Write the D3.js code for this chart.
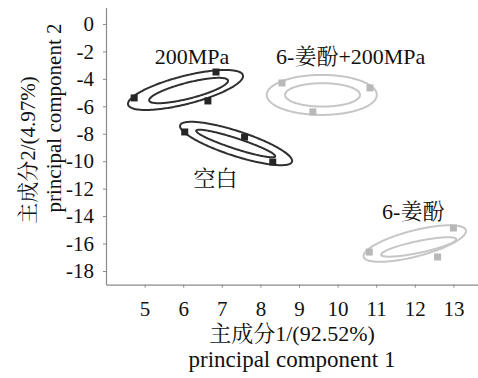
<!DOCTYPE html>
<html>
<head>
<meta charset="utf-8">
<script src="https://cdn.jsdelivr.net/npm/d3@7/dist/d3.min.js"></script>
<style>
  html, body { margin: 0; padding: 0; background: #fff; }
  svg { display: block; }
  text { font-family: "Liberation Serif", "Noto Serif CJK SC", "Noto Sans CJK SC", serif; fill: #111; }
</style>
</head>
<body>
<svg id="chart" width="478" height="378"></svg>
<script>
// ---------- data ----------
const groups = ["200MPa", "空白", "6-姜酚+200MPa", "6-姜酚"];
const groupTone = ["dark", "dark", "light", "light"];
// sample scores (3 per group)
const pointX = [[4.73, 6.85, 6.64], [6.04, 7.59, 8.32], [8.56, 10.84, 9.36], [10.82, 13.00, 12.59]];
const pointY = [[-5.39, -3.50, -5.61], [-7.87, -8.24, -10.06], [-4.30, -4.66, -6.41], [-16.62, -14.87, -16.98]];
// ellipses: [cx, cy, ux, uy, vx, vy] (centre, major and minor semi-axis vectors, data units)
const outerEllipse = [
  [6.06, -4.81, 1.487, 1.071, 0.090, -0.989],
  [7.37, -8.71, 1.448, -1.328, -0.100, -0.860],
  [9.59, -5.17, 1.425, 0, 0, -1.458],
  [12.00, -16.00, 1.324, 0.969, 0.085, -0.917]
];
const innerEllipse = [
  [6.14, -4.85, 1.021, 0.736, 0.052, -0.560],
  [7.36, -8.71, 1.022, -0.938, -0.045, -0.360],
  [9.61, -5.17, 0.971, 0, 0, -0.853],
  [12.10, -16.25, 0.971, 0.569, 0.030, -0.420]
];
// group label anchors (data units)
const labelX = [6.23, 6.84, 10.34, 11.96];
const labelY = [-2.33, -11.22, -2.33, -13.67];
const xTicks = [5, 6, 7, 8, 9, 10, 11, 12, 13];
const yTicks = [0, -2, -4, -6, -8, -10, -12, -14, -16, -18];
const xTitle = ["主成分1/(92.52%)", "principal component 1"];
const yTitle = ["主成分2/(4.97%)", "principal component 2"];

// ---------- styles ----------
const toneStroke = { dark: "#303030", light: "#c6c6c6" };
const toneFill = { dark: "#262626", light: "#b8b8b8" };
const axisColor = "#8a8a8a";

// ---------- chart ----------
const svg = d3.select("#chart");
const x = d3.scaleLinear().domain([4, 14]).range([106, 492]);
const y = d3.scaleLinear().domain([1.2, -19]).range([7.5, 284.7]);

const xAxis = svg.append("g")
  .attr("transform", `translate(0,${y(-19)})`)
  .call(d3.axisBottom(x).tickValues(xTicks).tickSize(3).tickSizeOuter(0).tickPadding(13).tickFormat(d3.format("d")));
const yAxis = svg.append("g")
  .attr("transform", `translate(${x(4)},0)`)
  .call(d3.axisLeft(y).tickValues(yTicks).tickSize(3).tickSizeOuter(0).tickPadding(9).tickFormat(d => d === 0 ? "0" : "-" + Math.abs(d)));
[xAxis, yAxis].forEach(g => {
  g.select(".domain").attr("stroke", axisColor).attr("stroke-width", 1.2);
  g.selectAll(".tick line").attr("stroke", axisColor);
  g.selectAll(".tick text").attr("font-size", 21).attr("fill", "#111")
    .attr("font-family", "Liberation Serif, serif");
});

// ellipses
const ellipsePath = e => {
  const pts = d3.range(0, 360, 3).map(deg => {
    const t = deg * Math.PI / 180;
    return [x(e[0] + Math.cos(t) * e[2] + Math.sin(t) * e[4]),
            y(e[1] + Math.cos(t) * e[3] + Math.sin(t) * e[5])];
  });
  return d3.line().curve(d3.curveCardinalClosed.tension(0.5))(pts);
};
groups.forEach((g, i) => {
  const tone = groupTone[i];
  [outerEllipse[i], innerEllipse[i]].forEach(e => {
    svg.append("path").attr("d", ellipsePath(e))
      .attr("fill", "none").attr("stroke", toneStroke[tone]).attr("stroke-width", 2);
  });
  pointX[i].forEach((px, j) => {
    svg.append("rect")
      .attr("x", x(px) - 3.5).attr("y", y(pointY[i][j]) - 3.5)
      .attr("width", 7).attr("height", 7)
      .attr("fill", toneFill[tone]);
  });
  svg.append("text")
    .attr("x", x(labelX[i])).attr("y", y(labelY[i]))
    .attr("dy", "0.35em").attr("text-anchor", "middle")
    .attr("font-size", 22).text(g);
});

// axis titles
svg.append("text").attr("x", 292).attr("y", 341).attr("text-anchor", "middle")
  .attr("font-size", 22).text(xTitle[0]);
svg.append("text").attr("x", 292).attr("y", 367).attr("text-anchor", "middle")
  .attr("font-size", 23).text(xTitle[1]);
svg.append("text").attr("transform", "translate(35,150) rotate(-90)").attr("text-anchor", "middle")
  .attr("font-size", 21).text(yTitle[0]);
svg.append("text").attr("transform", "translate(61,118) rotate(-90)").attr("text-anchor", "middle")
  .attr("font-size", 21).text(yTitle[1]);
</script>
</body>
</html>
